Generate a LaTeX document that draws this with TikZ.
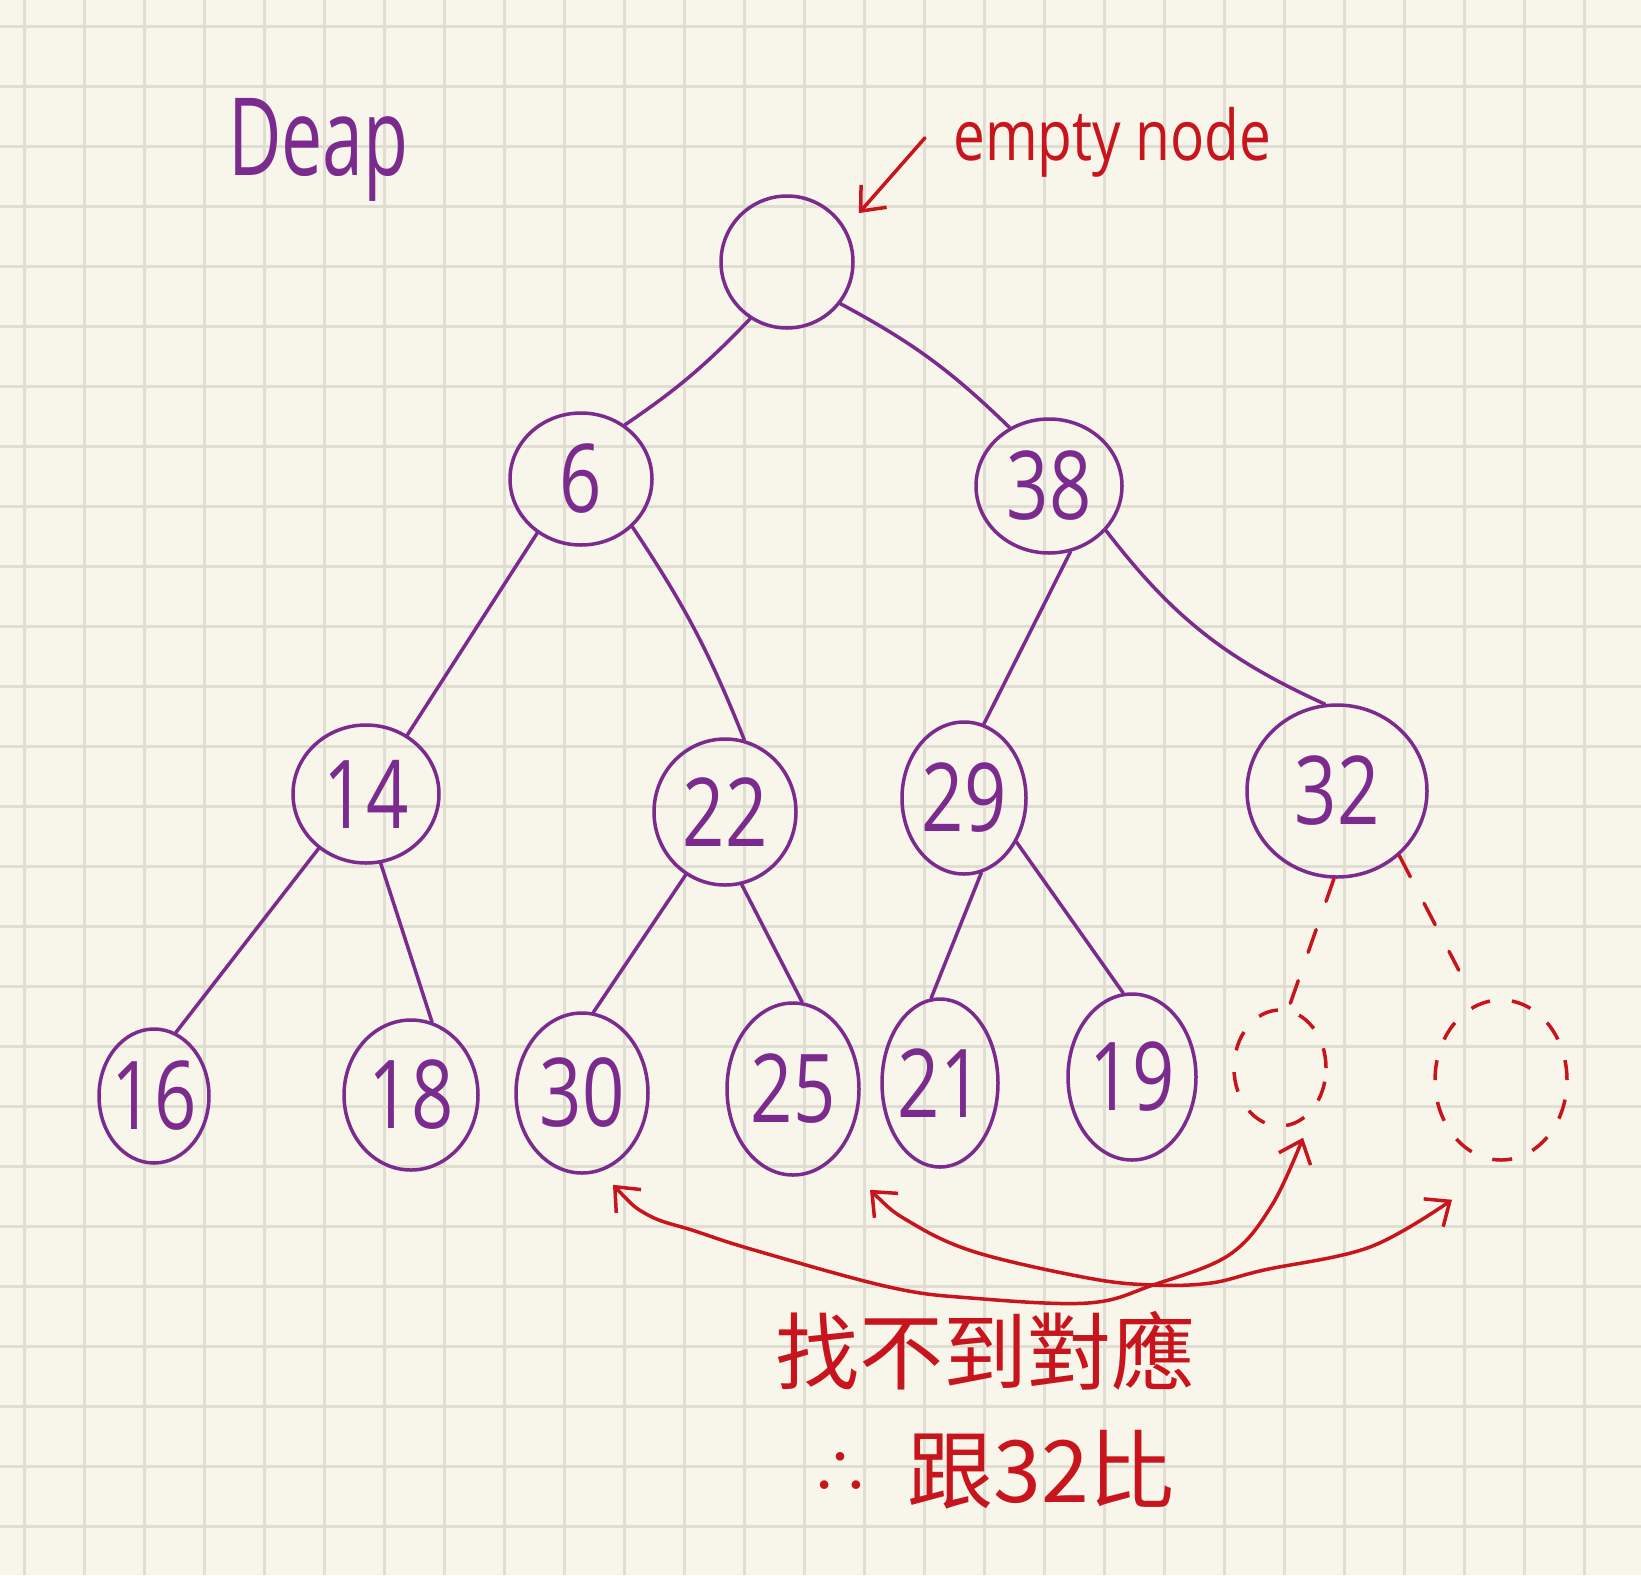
\documentclass[tikz,border=0pt]{standalone}
\usepackage{fontspec}
\setmainfont{Open Sans}
\newfontfamily\cjkfont{Noto Sans CJK TC}
\usetikzlibrary{shapes.geometric,arrows.meta}
\definecolor{paper}{HTML}{F8F5EA}
\definecolor{gridc}{HTML}{E0DDD2}
\definecolor{purp}{HTML}{7B2B8E}
\definecolor{hred}{HTML}{C8141C}
\newcommand{\hdig}[1]{\makebox[0pt]{\scalebox{0.78}[1]{#1}}}
\tikzset{hb/.tip={Straight Barb[length=20pt,width=34pt]}}
\begin{document}
\begin{tikzpicture}[x=1pt,y=-1pt,
  hnode/.style={ellipse, draw=purp, line width=3.5pt, inner sep=0pt, text=purp, font=\fontsize{95}{95}\selectfont},
  enode/.style={ellipse, draw=hred, line width=3.5pt, inner sep=0pt, dash pattern=on 20pt off 22pt},
  edge/.style={draw=purp, line width=3.5pt, line cap=round},
  dedge/.style={draw=hred, line width=3.5pt, line cap=round, dash pattern=on 24pt off 30pt},
  rarrow/.style={draw=hred, line width=3.5pt, line cap=round, line join=round}
]
\fill[paper] (0,0) rectangle (1641,1575);
\useasboundingbox (0,0) rectangle (1641,1575);
\foreach \gx in {24,84,...,1641} \draw[gridc, line width=3pt] (\gx,0) -- (\gx,1575);
\foreach \gy in {26,86,...,1575} \draw[gridc, line width=3pt] (0,\gy) -- (1641,\gy);

% nodes
\node[hnode, minimum width=132pt, minimum height=132pt] (root) at (787,262) {};
\node[hnode, minimum width=142pt, minimum height=132pt] (n6) at (581,479) {\hdig{6}};
\node[hnode, minimum width=146pt, minimum height=134pt] (n38) at (1049,486) {\hdig{38}};
\node[hnode, minimum width=146pt, minimum height=138pt] (n14) at (366,794) {\hdig{14}};
\node[hnode, minimum width=142pt, minimum height=146pt] (n22) at (725,812) {\hdig{22}};
\node[hnode, minimum width=124pt, minimum height=152pt] (n29) at (964,798) {\hdig{29}};
\node[hnode, minimum width=180pt, minimum height=172pt] (n32) at (1337,791) {\hdig{32}};
\node[hnode, minimum width=110pt, minimum height=134pt] (n16) at (154,1096) {\hdig{16}};
\node[hnode, minimum width=134pt, minimum height=150pt] (n18) at (411,1095) {\hdig{18}};
\node[hnode, minimum width=132pt, minimum height=160pt] (n30) at (582,1093) {\hdig{30}};
\node[hnode, minimum width=132pt, minimum height=172pt] (n25) at (793,1089) {\hdig{25}};
\node[hnode, minimum width=116pt, minimum height=168pt] (n21) at (940,1083) {\hdig{21}};
\node[hnode, minimum width=128pt, minimum height=166pt] (n19) at (1132,1077) {\hdig{19}};
\node[enode, minimum width=92pt, minimum height=116pt] (e1) at (1280,1068) {};
\node[enode, minimum width=132pt, minimum height=160pt] (e2) at (1501,1080) {};

% edges
\draw[edge] (root.237) to[bend left=6] (n6.51);
\draw[edge] (root.322) to[bend left=8] (n38.124);
\draw[edge] (n6.231) -- (n14.55);
\draw[edge] (n6.317) to[bend left=6] (n22.75);
\draw[edge] (n38.288) -- (n29.75);
\draw[edge] (n38.322) to[bend right=14] (n32.98);
\draw[edge] (n14.229) -- (n16.71);
\draw[edge] (n14.282) -- (n18.74);
\draw[edge] (n22.238) -- (n30.82);
\draw[edge] (n22.283) -- (n25.84);
\draw[edge] (n29.283) -- (n21.96);
\draw[edge] (n29.320) -- (n19.96);
\draw[dedge] (n32.268) -- (e1.82);
\draw[dedge, shorten >=38pt] (n32.314) -- (e2.108);

% texts
\node[anchor=base west, text=purp, inner sep=0pt, font=\fontsize{108}{108}\selectfont] (title) at (228,175) {\scalebox{0.68}[1]{Deap}};
\node[anchor=base west, text=hred, inner sep=0pt, font=\fontsize{70}{70}\selectfont] (lbl) at (953,160) {\scalebox{0.81}[1]{empty node}};
\draw[rarrow, -{hb}, shorten >=20pt] ([shift={(-28,-4)}]lbl.west) -- (root.30);

\node[text=hred, inner sep=0pt, font=\cjkfont\fontsize{84}{84}\selectfont] (zh1) at (985,1351) {找不到對應};
\node[text=hred, inner sep=0pt, font=\cjkfont\fontsize{60}{60}\selectfont] (therefore) at (840,1473) {∴};
\node[text=hred, inner sep=0pt, font=\cjkfont\fontsize{86}{86}\selectfont] (zh2) at (1041,1470) {跟32比};

% red correspondence arrows
\coordinate (a30) at ([shift={(31,10)}]n30.south);
\coordinate (ae1) at ([shift={(23,10)}]e1.south);
\coordinate (a25) at ([shift={(77,13)}]n25.south);
\coordinate (ae2) at ([shift={(-49,38)}]e2.south);
\draw[rarrow, {hb}-{hb}] plot[smooth, tension=0.6] coordinates {(a30) (648,1215) (695,1231) (754,1250) (889,1287) (971,1298) (1088,1303) (1153,1285) (1229,1255) (1272,1205) (ae1)};
\draw[rarrow, {hb}-{hb}] plot[smooth, tension=0.6] coordinates {(a25) (910,1222) (975,1252) (1088,1278) (1153,1285) (1211,1283) (1264,1270) (1370,1247) (ae2)};
\end{tikzpicture}
\end{document}
